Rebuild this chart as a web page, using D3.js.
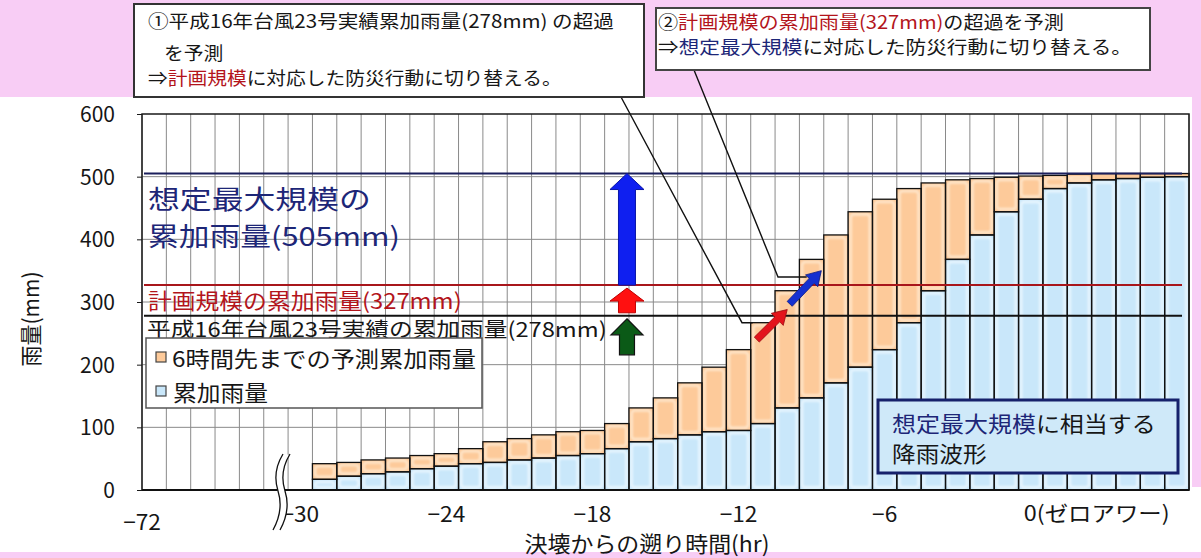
<!DOCTYPE html>
<html lang="ja">
<head>
<meta charset="utf-8">
<script src="https://cdn.jsdelivr.net/npm/d3@7"></script>
<style>
  html, body { margin: 0; padding: 0; background: #fff; }
  svg { display: block; font-family: "Noto Sans CJK JP", "Noto Sans", sans-serif; }
</style>
</head>
<body>
<svg id="chart" width="1201" height="558"></svg>
<script>
// Hours before the levee breach (0 = zero hour), one bar per hour
const hours = [-29, -28, -27, -26, -25, -24, -23, -22, -21, -20, -19, -18,
               -17, -16, -15, -14, -13, -12, -11, -10, -9, -8, -7, -6,
               -5, -4, -3, -2, -1, 0, 1, 2, 3, 4, 5, 6];

// 累加雨量: observed cumulative rainfall (mm)
const observedRain = [17, 22, 26, 29, 34, 38, 42, 44, 48, 51, 55, 58,
                      66, 77, 82, 88, 93, 95, 106, 131, 147, 171, 196, 224,
                      267, 318, 368, 407, 444, 464, 481, 490, 495, 497, 499, 500];

// 6時間先までの予測累加雨量: forecast cumulative rainfall six hours ahead (mm)
const forecastRain = [42, 44, 48, 51, 55, 58, 66, 77, 82, 88, 93, 95,
                      106, 131, 147, 171, 196, 224, 267, 318, 368, 407, 444, 464,
                      481, 490, 495, 497, 499, 501, 502, 504, 505, 505, 505, 505];

// Reference levels (mm)
const levelRecord = 278;   // 平成16年台風23号実績
const levelPlan = 327;     // 計画規模
const levelMax = 505;      // 想定最大規模

// Axis ticks
const yTicks = [0, 100, 200, 300, 400, 500, 600];
const xTickHours = [-30, -24, -18, -12, -6];
const xTickLabels = ["−30", "−24", "−18", "−12", "−6"];
const xStartLabel = "−72";
const xZeroLabel = "0(ゼロアワー)";

const svg = d3.select("#chart");
const W = 1201, H = 558;

// Horizontal scale in hours; seven empty columns on the left stand for the
// compressed −72…−30 span behind the axis break.
const x = d3.scaleLinear().domain([-36.5, 6.5]).range([142, 1189]);
const y = d3.scaleLinear().domain([0, 600]).range([490, 114]);
const colW = x(1) - x(0);

const C = {
  pink: "#f8cdf5",
  grid: "#8a8a8a",
  frame: "#1a1a1a",
  orange: "#fdca9a",
  orangeRim: "#fee6cb",
  blue: "#c9e7fa",
  blueRim: "#e9f6fe",
  navy: "#1d2677",
  navyLine: "#1b1f5c",
  red: "#b3141b",
  redLine: "#a8161b",
  text: "#161616"
};

// Soft edge used for the inner rim of the bars
const defs = svg.append("defs");
defs.append("filter").attr("id", "soft").attr("x", "-20%").attr("y", "-20%")
  .attr("width", "140%").attr("height", "140%")
  .append("feGaussianBlur").attr("stdDeviation", 1.1);

// Text helper: parts = [[string, colour], ...]; stretches horizontally to a width when given
function label(parent, px, py, parts, opt) {
  const g = parent.append("g");
  const t = g.append("text")
    .attr("font-size", opt.size)
    .attr("text-anchor", opt.anchor || "start")
    .attr("dominant-baseline", "central");
  parts.forEach(([s, c]) => t.append("tspan").attr("fill", c || C.text).text(s));
  let sx = opt.sx || 1;
  if (opt.width) sx = opt.width / t.node().getComputedTextLength();
  g.attr("transform", `translate(${px},${py})${opt.rotate ? ` rotate(${opt.rotate})` : ""} scale(${sx},1)`);
  return g;
}

// Backgrounds
svg.append("rect").attr("width", W).attr("height", H).attr("fill", C.pink);
svg.append("rect").attr("x", 0).attr("y", 97).attr("width", 1192).attr("height", 455).attr("fill", "#fff");
svg.append("rect").attr("x", 1192).attr("y", 487).attr("width", 9).attr("height", 65).attr("fill", "#fff");

// Gridlines
const grid = svg.append("g");
grid.selectAll("line.h").data(yTicks.filter(v => v > 0 && v < 600)).join("line")
  .attr("x1", x.range()[0]).attr("x2", x.range()[1])
  .attr("y1", d => y(d)).attr("y2", d => y(d))
  .attr("stroke", C.grid).attr("stroke-width", 1);
grid.selectAll("line.v").data(d3.range(-36.5, 6.51, 1)).join("line")
  .attr("x1", d => x(d)).attr("x2", d => x(d))
  .attr("y1", y(600)).attr("y2", y(0))
  .attr("stroke", C.grid).attr("stroke-width", 1);

// Stacked bars: observed part below, forecast increment above
const bars = svg.append("g");
const rows = hours.map((h, i) => ({ h, obs: observedRain[i], fc: forecastRain[i] }));
const segs = [];
rows.forEach(d => {
  segs.push({ h: d.h, top: d.fc, bot: d.obs, fill: C.orange, rim: C.orangeRim });
  segs.push({ h: d.h, top: d.obs, bot: 0, fill: C.blue, rim: C.blueRim });
});
bars.selectAll("rect.seg").data(segs).join("rect")
  .attr("x", d => x(d.h - 0.5)).attr("width", colW)
  .attr("y", d => y(d.top)).attr("height", d => y(d.bot) - y(d.top))
  .attr("fill", d => d.fill);
bars.selectAll("rect.rim").data(segs.filter(d => y(d.bot) - y(d.top) > 8)).join("rect")
  .attr("x", d => x(d.h - 0.5) + 2.6).attr("width", colW - 5.2)
  .attr("y", d => y(d.top) + 2.6).attr("height", d => y(d.bot) - y(d.top) - 5.2)
  .attr("rx", 3)
  .attr("fill", "none").attr("stroke", d => d.rim).attr("stroke-width", 2.6)
  .attr("filter", "url(#soft)");
bars.selectAll("rect.edge").data(segs).join("rect")
  .attr("x", d => x(d.h - 0.5)).attr("width", colW)
  .attr("y", d => y(d.top)).attr("height", d => y(d.bot) - y(d.top))
  .attr("fill", "none").attr("stroke", "#111").attr("stroke-width", 1.3);

// Plot frame
svg.append("rect")
  .attr("x", x.range()[0]).attr("y", y(600))
  .attr("width", x.range()[1] - x.range()[0]).attr("height", y(0) - y(600))
  .attr("fill", "none").attr("stroke", C.frame).attr("stroke-width", 1.5);
svg.append("line").attr("x1", x.range()[0]).attr("x2", x.range()[1])
  .attr("y1", y(0)).attr("y2", y(0)).attr("stroke", "#111").attr("stroke-width", 2);

// Y axis
const yAxis = svg.append("g").attr("transform", `translate(${x.range()[0]},0)`)
  .call(d3.axisLeft(y).tickValues(yTicks).tickSize(5).tickPadding(22));
yAxis.select(".domain").remove();
yAxis.selectAll(".tick line").attr("stroke", C.frame);
yAxis.selectAll(".tick text").attr("font-size", 21).attr("fill", C.text)
  .attr("font-family", "'Noto Sans CJK JP', sans-serif")
  .attr("dy", "0.36em");

label(svg, 29, 319, [["雨量(mm)", C.text]], { size: 22, anchor: "middle", rotate: -90, width: 95 });

// Reference levels
const refs = [
  { v: levelMax, c: C.navyLine, w: 2 },
  { v: levelPlan, c: C.redLine, w: 2 },
  { v: levelRecord, c: "#111", w: 2 }
];
svg.append("g").selectAll("line").data(refs).join("line")
  .attr("x1", x.range()[0] + 2).attr("x2", x.range()[1] - 7)
  .attr("y1", d => y(d.v)).attr("y2", d => y(d.v))
  .attr("stroke", d => d.c).attr("stroke-width", d => d.w);

// X axis labels
const xl = svg.append("g");
xTickHours.forEach((h, i) => label(xl, x(h), 512, [[xTickLabels[i]]], { size: 21, anchor: "middle", sx: 1.08 }));
label(xl, x(-36.5), 520, [[xStartLabel]], { size: 21, anchor: "middle", sx: 1.08 });
label(xl, x(0) - 7, 512, [[xZeroLabel]], { size: 21, width: 146 });
label(svg, 647, 542, [["決壊からの遡り時間(hr)"]], { size: 22, anchor: "middle", width: 245 });

// Axis break mark
const brk = svg.append("g");
const sPath = cx => `M${cx + 5},454 Q${cx - 6},472 ${cx},491 Q${cx + 6},510 ${cx - 5},530`;
brk.append("path").attr("d", sPath(281.5)).attr("fill", "none").attr("stroke", "#fff").attr("stroke-width", 7);
[278, 285].forEach(cx => brk.append("path").attr("d", sPath(cx))
  .attr("fill", "none").attr("stroke", "#111").attr("stroke-width", 1.3));

// Level captions
label(svg, 148, 197, [["想定最大規模の", C.navy]], { size: 26, width: 223 });
label(svg, 148, 234, [["累加雨量(505mm)", C.navy]], { size: 26, width: 252 });
label(svg, 148, 300, [["計画規模の累加雨量(327mm)", C.red]], { size: 21.5, width: 314 });
label(svg, 147, 328, [["平成16年台風23号実績の累加雨量(278mm)", C.text]], { size: 20.5, width: 460 });

// Legend
const lg = svg.append("g");
lg.append("rect").attr("x", 146).attr("y", 338).attr("width", 336).attr("height", 70)
  .attr("fill", "#fff").attr("stroke", "#555").attr("stroke-width", 1.5);
lg.append("rect").attr("x", 156).attr("y", 352).attr("width", 10).attr("height", 10)
  .attr("fill", C.orange).attr("stroke", "#444").attr("stroke-width", 1.2);
lg.append("rect").attr("x", 156).attr("y", 386).attr("width", 10).attr("height", 10)
  .attr("fill", C.blue).attr("stroke", "#444").attr("stroke-width", 1.2);
label(lg, 172, 357, [["6時間先までの予測累加雨量"]], { size: 22, width: 304 });
label(lg, 173, 391, [["累加雨量"]], { size: 22, sx: 1.08 });

// Vertical arrows marking the step-ups between levels
function vArrow(cx, yTip, yHeadBase, yBottom, shaftW, headW) {
  return `M${cx},${yTip} L${cx + headW / 2},${yHeadBase} L${cx + shaftW / 2},${yHeadBase} ` +
    `L${cx + shaftW / 2},${yBottom} L${cx - shaftW / 2},${yBottom} L${cx - shaftW / 2},${yHeadBase} ` +
    `L${cx - headW / 2},${yHeadBase} Z`;
}
const ax = x(-16.5) - 2;
svg.append("path").attr("d", vArrow(ax, y(levelMax), y(levelMax) + 16, y(levelPlan), 17, 34))
  .attr("fill", "#0f1ff0").attr("stroke", "#0a16a8").attr("stroke-width", 1);
svg.append("path").attr("d", vArrow(ax, y(levelPlan) + 3, y(levelPlan) + 16, y(levelRecord) - 3, 17, 34))
  .attr("fill", "#ff1010").attr("stroke", "#c00000").attr("stroke-width", 1);
svg.append("path").attr("d", vArrow(ax, y(levelRecord) + 3, y(levelRecord) + 19, y(levelRecord) + 39, 15, 32))
  .attr("fill", "#0b5a17").attr("stroke", "#111").attr("stroke-width", 1.2);

// Diagonal arrows marking the threshold crossings
function dArrow(x1, y1, x2, y2, sw, hw, hl) {
  const dx = x2 - x1, dy = y2 - y1, L = Math.hypot(dx, dy);
  const ux = dx / L, uy = dy / L, nx = -uy, ny = ux;
  const bx = x2 - ux * hl, by = y2 - uy * hl;
  const pts = [
    [x1 + nx * sw / 2, y1 + ny * sw / 2], [bx + nx * sw / 2, by + ny * sw / 2],
    [bx + nx * hw / 2, by + ny * hw / 2], [x2, y2],
    [bx - nx * hw / 2, by - ny * hw / 2], [bx - nx * sw / 2, by - ny * sw / 2],
    [x1 - nx * sw / 2, y1 - ny * sw / 2]
  ];
  return "M" + pts.map(p => p.join(",")).join("L") + "Z";
}
svg.append("path").attr("d", dArrow(x(-11.25), y(240), x(-10), y(288), 7, 17, 14))
  .attr("fill", "#e3141c").attr("stroke", "#9a0d12").attr("stroke-width", 0.8);
svg.append("path").attr("d", dArrow(x(-9.9), y(297), x(-8.6), y(350), 7, 17, 14))
  .attr("fill", "#1530d0").attr("stroke", "#0c1a80").attr("stroke-width", 0.8);

// Leader lines from the callouts
const leader = svg.append("g").attr("fill", "none").attr("stroke", "#111").attr("stroke-width", 1.4);
leader.append("path").attr("d", `M621,97 L742,${y(267)} L${x(-11.5) + 2},${y(267)}`);
leader.append("path").attr("d", `M694,70 L778,${y(340)} L${x(-9.2)},${y(340)}`);

// Callout ①
const b1 = svg.append("g");
b1.append("rect").attr("x", 134).attr("y", 4).attr("width", 510).attr("height", 93)
  .attr("fill", "#fff").attr("stroke", "#333").attr("stroke-width", 2);
label(b1, 148, 21, [["①平成16年台風23号実績累加雨量(278mm) の超過"]], { size: 18, width: 466 });
label(b1, 164, 51, [["を予測"]], { size: 18, sx: 1.1 });
label(b1, 148, 76, [["⇒"], ["計画規模", C.red], ["に対応した防災行動に切り替える。"]], { size: 18, width: 414 });

// Callout ②
const b2 = svg.append("g");
b2.append("rect").attr("x", 656).attr("y", 8).attr("width", 494).attr("height", 62)
  .attr("fill", "#fff").attr("stroke", "#444").attr("stroke-width", 2);
label(b2, 658, 20.5, [["②"], ["計画規模の累加雨量(327mm)", C.red], ["の超過を予測"]], { size: 18, width: 406 });
label(b2, 658, 47, [["⇒"], ["想定最大規模", C.navy], ["に対応した防災行動に切り替える。"]], { size: 18, width: 474 });

// Note on the rainfall pattern
const b3 = svg.append("g");
b3.append("rect").attr("x", 878).attr("y", 400).attr("width", 300).attr("height", 73)
  .attr("fill", "#cfe9f9").attr("stroke", "#16216b").attr("stroke-width", 3);
label(b3, 892, 423, [["想定最大規模", C.navy], ["に相当する"]], { size: 21.5, width: 264 });
label(b3, 892, 452, [["降雨波形"]], { size: 21.5, sx: 1.1 });
</script>
</body>
</html>
